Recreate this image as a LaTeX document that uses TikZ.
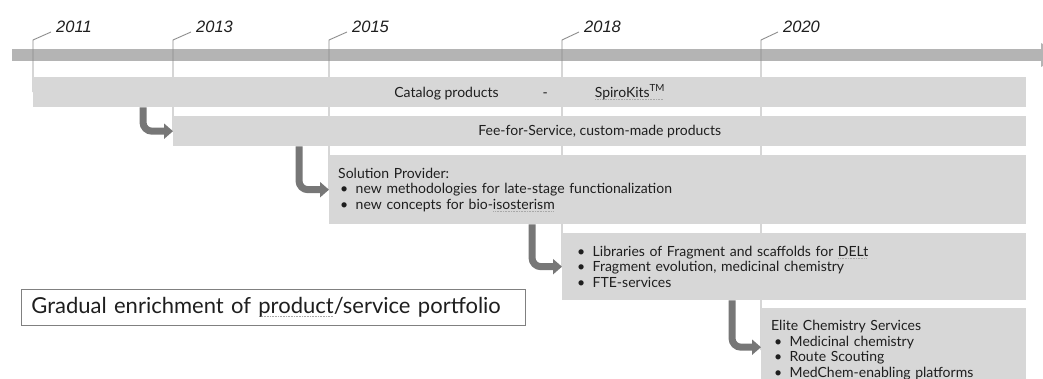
\documentclass[tikz,border=0pt]{standalone}
\usepackage{fontspec}
\setmainfont{Lato}
\newfontfamily\yearfont{Liberation Sans}
\usetikzlibrary{arrows.meta,backgrounds}

\definecolor{boxgray}{HTML}{D7D7D7}
\definecolor{bargray}{HTML}{B4B4B4}
\definecolor{arrowgray}{HTML}{777777}
\definecolor{leadgray}{HTML}{8C8C8C}
\definecolor{inkgray}{HTML}{1E1E1E}
\definecolor{squiggray}{HTML}{A8A8A8}

\newbox\squigbox
\newcommand{\squig}[1]{\setbox\squigbox=\hbox{#1}\rlap{\raisebox{-2.8pt}[0pt][0pt]{\color{squiggray}\leaders\hbox to 1.6pt{\hss\rule{0.8pt}{0.6pt}\hss}\hskip\wd\squigbox}}#1}
\newcommand{\bitem}[1]{\hspace*{2pt}\makebox[15.5pt][l]{\textbullet}#1}

\begin{document}
\begin{tikzpicture}[x=1pt,y=-1pt,
  phase/.style={fill=boxgray,anchor=north west,inner ysep=0pt,text=inkgray,
    font=\fontsize{14}{15.5}\selectfont},
  year/.style={anchor=west,inner sep=0pt,text=inkgray,
    font=\yearfont\itshape\fontsize{16.5}{18}\selectfont},
  leader/.style={draw=leadgray,line width=0.9pt},
  steparrow/.style={draw=arrowgray,line width=7pt,rounded corners=9pt,
    -{Triangle[length=9pt,width=15pt]}}]

  \useasboundingbox (0,0) rectangle (1043,379);

  % phases of the portfolio
  \node[phase,minimum width=993pt,minimum height=30pt] (catalog) at (33,77)
    {Catalog products\hspace{44pt}-\hspace{47pt}\squig{SpiroKits\textsuperscript{TM}}};
  \node[phase,minimum width=853pt,minimum height=30pt] (fee) at (173,116)
    {Fee-for-Service, custom-made products};
  \node[phase,minimum height=69pt,text width=679pt,inner xsep=9pt,align=left] (solution) at (329,155)
    {Solution Provider:\\
     \bitem{new methodologies for late-stage functionalization}\\
     \bitem{new concepts for bio-\squig{isosterism}}};
  \node[phase,minimum height=67pt,text width=438pt,inner xsep=13pt,align=left] (libraries) at (562,233)
    {\bitem{Libraries of Fragment and scaffolds for \squig{DELt}}\\
     \bitem{Fragment evolution, medicinal chemistry}\\
     \bitem{FTE-services}};
  \node[phase,minimum height=84pt,text width=245pt,inner xsep=10pt,align=left] (elite) at (761,308)
    {Elite Chemistry Services\\
     \hspace*{1pt}\bitem{Medicinal chemistry}\\
     \hspace*{1pt}\bitem{Route Scouting}\\
     \hspace*{1pt}\bitem{\squig{MedChem}-enabling platforms}};

  \node[draw=gray,line width=0.8pt,anchor=north west,minimum width=504pt,minimum height=36pt,
    text width=484pt,inner xsep=10pt,text=inkgray,font=\fontsize{22}{24}\selectfont] (gradual) at (21,289)
    {Gradual enrichment of \squig{product}/service portfolio};

  % years
  \node[year,xshift=23pt] (y2011) at (catalog.north west |- 0,27) {2011};
  \node[year,xshift=23pt] (y2013) at (fee.north west |- 0,27) {2013};
  \node[year,xshift=23pt] (y2015) at (solution.north west |- 0,27) {2015};
  \node[year,xshift=22pt] (y2018) at (libraries.north west |- 0,27) {2018};
  \node[year,xshift=22pt] (y2020) at (elite.north west |- 0,27) {2020};

  \begin{pgfonlayer}{background}
    % time axis
    \fill[bargray] (12,49) rectangle (1042,61);
    \fill[bargray] (1041,43) -- (1062,55) -- (1041,67) -- cycle;
    \draw[leader] ([shift={(-5,5)}]y2011.west) -- (catalog.north west |- 0,40) -- (catalog.west);
    \draw[leader] ([shift={(-5,5)}]y2013.west) -- (fee.north west |- 0,40) -- (fee.west);
    \draw[leader] ([shift={(-5,5)}]y2015.west) -- (solution.north west |- 0,40) -- (solution.west);
    \draw[leader] ([shift={(-5,5)}]y2018.west) -- (libraries.north west |- 0,40) -- (libraries.west);
    \draw[leader] ([shift={(-5,5)}]y2020.west) -- (elite.north west |- 0,40) -- (elite.west);
  \end{pgfonlayer}

  % steps from one phase to the next
  \draw[steparrow] ([xshift=-30pt]fee.west |- catalog.south) |- (fee.west);
  \draw[steparrow] ([xshift=-30pt]solution.west |- fee.south) |- (solution.west);
  \draw[steparrow] ([xshift=-30pt]libraries.west |- solution.south) |- (libraries.west);
  \draw[steparrow] ([xshift=-29pt]elite.west |- libraries.south) |- ([yshift=3pt]elite.west);
\end{tikzpicture}
\end{document}
